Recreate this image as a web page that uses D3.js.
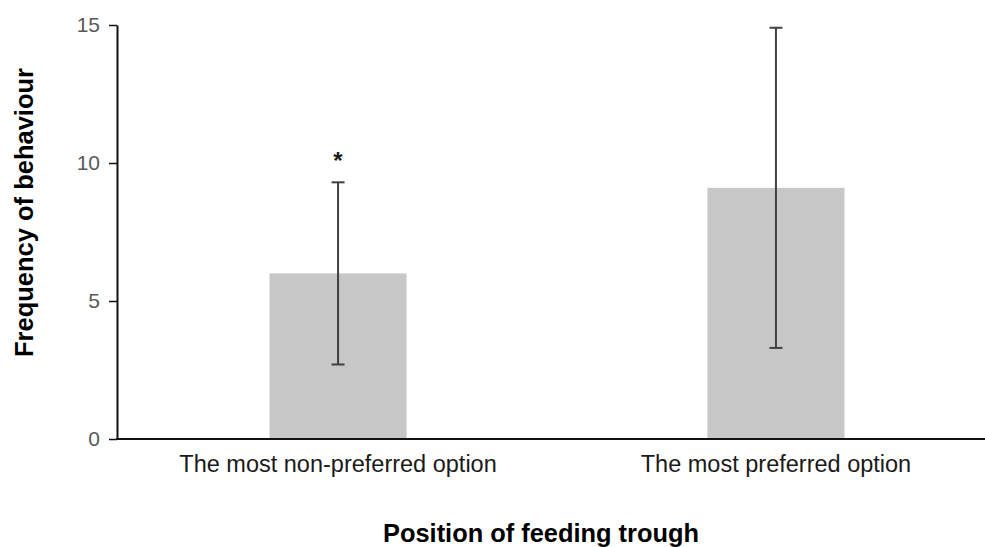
<!DOCTYPE html>
<html>
<head>
<meta charset="utf-8">
<script src="https://cdn.jsdelivr.net/npm/d3@7"></script>
<style>
  html, body { margin: 0; padding: 0; background: #fff; }
  svg { display: block; }
</style>
</head>
<body>
<svg id="chart" width="985" height="547"></svg>
<script>
// Feeding trough position vs. behaviour frequency
const categories = ["The most non-preferred option", "The most preferred option"];
const means = [6.0, 9.1];
const errLow = [2.7, 3.3];
const errHigh = [9.3, 14.9];
const significance = ["*", ""];
const yTicks = [0, 5, 10, 15];

const svg = d3.select("#chart");
const font = "Liberation Sans, Arial, sans-serif";

const axisLeft = 117, axisRight = 985, axisTop = 25, axisBottom = 439;

const y = d3.scaleLinear().domain([0, 15]).range([axisBottom, axisTop]);
const x = d3.scaleBand().domain(categories)
  .range([125, 989]).paddingInner(0.687).paddingOuter(0.33);

// bars
svg.append("g").selectAll("rect")
  .data(categories)
  .join("rect")
  .attr("x", d => x(d))
  .attr("width", x.bandwidth())
  .attr("y", (d, i) => y(means[i]))
  .attr("height", (d, i) => y(0) - y(means[i]))
  .attr("fill", "#c7c7c7");

// error bars with caps
const eb = svg.append("g").attr("stroke", "#404040").attr("stroke-width", 2);
categories.forEach((c, i) => {
  const cx = x(c) + x.bandwidth() / 2;
  eb.append("line").attr("x1", cx).attr("x2", cx)
    .attr("y1", y(errLow[i])).attr("y2", y(errHigh[i]));
  [errLow[i], errHigh[i]].forEach(v => {
    eb.append("line").attr("x1", cx - 6.5).attr("x2", cx + 6.5)
      .attr("y1", y(v)).attr("y2", y(v));
  });
  if (significance[i]) {
    svg.append("text").attr("x", cx).attr("y", y(errHigh[i]) - 13)
      .attr("text-anchor", "middle")
      .attr("font-family", font).attr("font-size", 24).attr("font-weight", "bold")
      .attr("fill", "#1a1a1a").text(significance[i]);
  }
});

// y axis
const yAxis = svg.append("g").attr("transform", `translate(${axisLeft},0)`)
  .call(d3.axisLeft(y).tickValues(yTicks).tickSize(8).tickPadding(9).tickSizeOuter(0));
yAxis.select(".domain").attr("stroke", "#111").attr("stroke-width", 2);
yAxis.selectAll(".tick line").attr("stroke", "#111").attr("stroke-width", 1.5);
yAxis.selectAll(".tick text").attr("font-family", font).attr("font-size", 21)
  .attr("fill", "#595959");

// x axis baseline
svg.append("line").attr("x1", axisLeft - 1).attr("x2", axisRight)
  .attr("y1", axisBottom).attr("y2", axisBottom)
  .attr("stroke", "#111").attr("stroke-width", 2);

const xAxis = svg.append("g").attr("transform", `translate(0,${axisBottom})`)
  .call(d3.axisBottom(x).tickSize(0).tickPadding(16));
xAxis.select(".domain").remove();
xAxis.selectAll(".tick text").attr("font-family", font).attr("font-size", 23.5)
  .attr("fill", "#1a1a1a");

// axis titles
svg.append("text").attr("x", 541).attr("y", 541.5)
  .attr("text-anchor", "middle").attr("font-family", font)
  .attr("font-size", 25.4).attr("font-weight", "bold").attr("fill", "#000")
  .text("Position of feeding trough");

svg.append("text")
  .attr("transform", "translate(33,212.5) rotate(-90)")
  .attr("text-anchor", "middle").attr("font-family", font)
  .attr("font-size", 25.5).attr("font-weight", "bold").attr("fill", "#000")
  .text("Frequency of behaviour");
</script>
</body>
</html>
